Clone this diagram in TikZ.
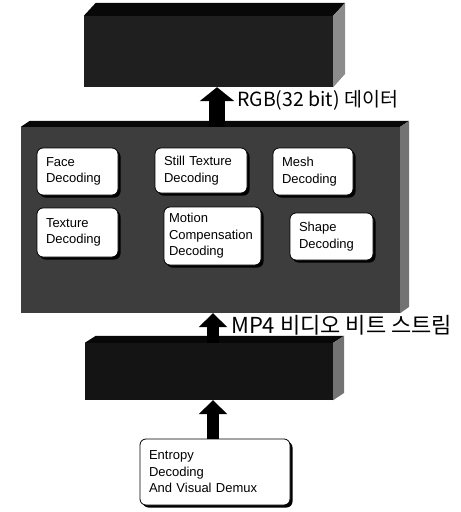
\documentclass[tikz,border=0pt]{standalone}
\usepackage{fontspec}
\usepackage{tikz}
\usetikzlibrary{arrows.meta,shadows}
\newfontfamily\boxfont{Liberation Sans}
\newfontfamily\krfont{Noto Sans CJK KR}

\begin{document}
\begin{tikzpicture}[x=1pt,y=-1pt,
    block/.style ={rectangle, inner sep=0pt},
    unit/.style ={rectangle, draw=black, thick, fill=white, rounded corners=6pt, align=left,
      inner xsep=9pt, inner ysep=0pt, font=\boxfont\fontsize{13}{16.5}\selectfont,
      drop shadow={shadow xshift=2.5pt, shadow yshift=-2.5pt, fill=black, opacity=1}},
    flow/.style ={line width=12pt, -{Triangle[width=28pt,length=14pt]}},
    tag/.style ={anchor=west, inner sep=0pt, font=\krfont\fontsize{19.5}{23}\selectfont}]
   \useasboundingbox (0,0) rectangle (461,512);

   \node[block, fill=black!88, minimum width=249pt, minimum height=71pt] (screen) at (208.5,51.5) {};
   \node[block, fill=black!76, minimum width=379pt, minimum height=186pt] (decoder) at (210.5,220) {};
   \node[block, fill=black!92, minimum width=248pt, minimum height=57pt] (demux) at (209,371.5) {};

   % top and side faces
   \fill[black!97] (screen.north west) -- ++(12,-13) -- ([xshift=12pt,yshift=13pt]screen.north east) -- (screen.north east) -- cycle;
   \fill[black!45] (screen.north east) -- ++(12,-13) -- ++(0,71) -- (screen.south east) -- cycle;
   \fill[black!97] (decoder.north west) -- ++(9,-6) -- ([xshift=9pt,yshift=6pt]decoder.north east) -- (decoder.north east) -- cycle;
   \fill[black!55] (decoder.north east) -- ++(9,-6) -- ++(0,186) -- (decoder.south east) -- cycle;
   \fill[black!97] (demux.north west) -- ++(11,-7) -- ([xshift=11pt,yshift=7pt]demux.north east) -- (demux.north east) -- cycle;
   \fill[black!55] (demux.north east) -- ++(11,-7) -- ++(0,57) -- (demux.south east) -- cycle;

   \node[unit, text width=63pt, minimum height=47pt] (face) at (77.5,171.5) {Face\\Decoding};
   \node[unit, text width=74pt, minimum height=45pt] (still) at (201,170.5) {Still Texture\\Decoding};
   \node[unit, text width=62pt, minimum height=47pt] (mesh) at (313,171.5) {Mesh\\Decoding};
   \node[unit, text width=63pt, minimum height=49pt] (texture) at (77.5,232.5) {Texture\\Decoding};
   \node[unit, text width=87pt, minimum height=58pt, inner xsep=5pt] (motion) at (212.5,236) {Motion\\Compensation\\Decoding};
   \node[unit, text width=65pt, minimum height=47pt] (shape) at (331.5,236.5) {Shape\\Decoding};
   \node[unit, text width=132pt, minimum height=66pt] (entropy) at (215,472) {Entropy\\Decoding\\And Visual Demux};

   \draw[flow, line width=16pt, -{Triangle[width=34pt,length=14pt]}] ([xshift=6.5pt]decoder.north) -- ([xshift=6.5pt]decoder.north |- screen.south);
   \draw[flow] ([xshift=4pt]demux.north) -- ([xshift=4pt]demux.north |- decoder.south);
   \draw[flow] ([xshift=-2pt]entropy.north) -- ([xshift=-2pt]entropy.north |- demux.south);

   \node[tag] (rgb) at (237,100) {RGB(32 bit) 데이터};
   \node[tag, font=\krfont\fontsize{22}{25}\selectfont] (mp4) at (231,325) {MP4 비디오 비트 스트림};

 \end{tikzpicture}
\end{document}
